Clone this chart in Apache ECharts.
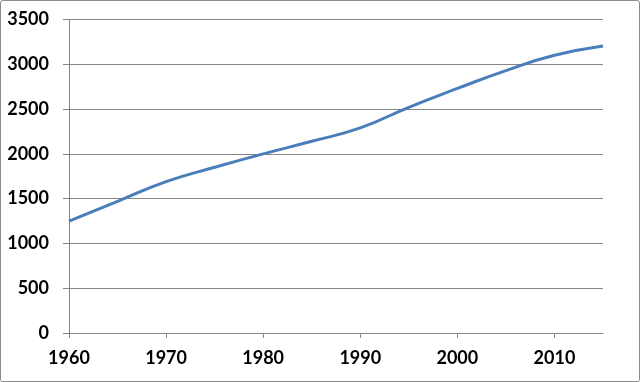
<!DOCTYPE html>
<html>
<head>
<meta charset="utf-8">
<script src="https://cdn.jsdelivr.net/npm/echarts@6/dist/echarts.min.js"></script>
<style>
html,body{margin:0;padding:0;background:#fff;}
#chart{width:640px;height:382px;}
</style>
</head>
<body>
<div id="chart"></div>
<script>
var years = [1960, 1965, 1970, 1975, 1980, 1985, 1990, 1995, 2000, 2005, 2010, 2015];
var values = [1250, 1470, 1690, 1850, 2000, 2140, 2290, 2520, 2730, 2930, 3100, 3205];
var xTicks = [1960, 1970, 1980, 1990, 2000, 2010];
var yTicks = [0, 500, 1000, 1500, 2000, 2500, 3000, 3500];

var chart = echarts.init(document.getElementById('chart'));
var axisColor = '#868686';
var labelFont = {fontFamily: 'Lato', fontWeight: 'bold', fontSize: 18, color: '#000'};
chart.setOption({
  animation: false,
  grid: {left: 69, right: 37, top: 19.5, bottom: 49},
  graphic: [{
    type: 'rect',
    shape: {x: 0.5, y: 0.5, width: 639, height: 381, r: 2},
    style: {fill: 'none', stroke: '#8c8c8c', lineWidth: 1},
    silent: true
  }],
  xAxis: {
    type: 'value',
    min: 1960,
    max: 2015,
    interval: 10,
    axisLine: {show: true, lineStyle: {color: axisColor, width: 1}},
    axisTick: {show: true, length: 5, inside: false, customValues: xTicks, lineStyle: {color: axisColor}},
    axisLabel: Object.assign({margin: 16, customValues: xTicks, formatter: function(v){return String(v);}}, labelFont),
    splitLine: {show: false}
  },
  yAxis: {
    type: 'value',
    min: 0,
    max: 3500,
    interval: 500,
    axisLine: {show: true, lineStyle: {color: axisColor, width: 1}},
    axisTick: {show: true, length: 6, inside: false, lineStyle: {color: axisColor}},
    axisLabel: Object.assign({margin: 20, customValues: yTicks, formatter: function(v){return String(v);}}, labelFont),
    splitLine: {show: true, lineStyle: {color: axisColor, width: 1}}
  },
  series: [{
    type: 'line',
    data: years.map(function(y, i){ return [y, values[i]]; }),
    smooth: 0.5,
    showSymbol: false,
    lineStyle: {color: '#4a7ebb', width: 3}
  }]
});
</script>
</body>
</html>
